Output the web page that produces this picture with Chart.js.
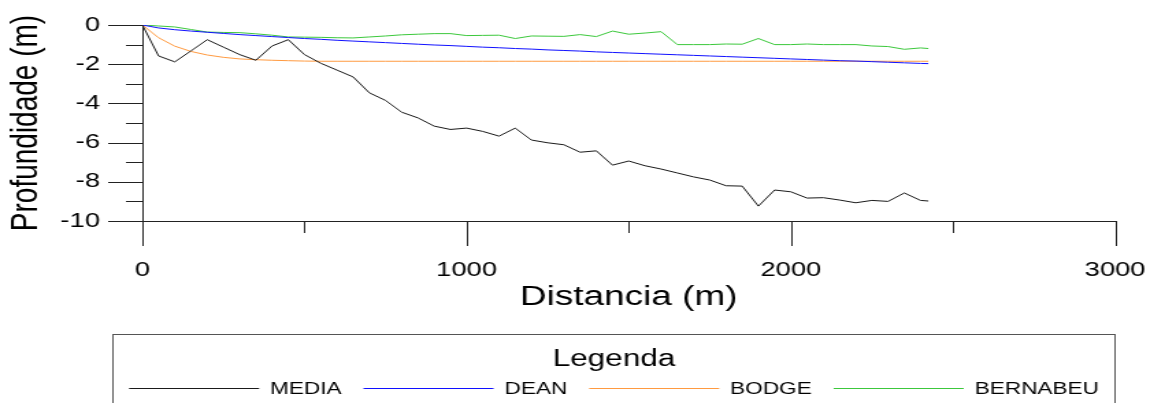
<!DOCTYPE html>
<html>
<head>
<meta charset="utf-8">
<title>Perfil de praia</title>
<script src="https://cdn.jsdelivr.net/npm/chart.js@4.4.1/dist/chart.umd.min.js"></script>
<style>
  html, body { margin: 0; padding: 0; background: #fff; overflow: hidden; }
  /* the original figure is stretched sideways: draw narrow, then widen */
  #chart { display: block; transform: scaleX(1.369); transform-origin: 0 0; }
</style>
</head>
<body>
<canvas id="chart" width="840" height="403"></canvas>
<script>
const distances = [0, 50, 100, 150, 200, 250, 300, 350, 400, 450, 500, 550, 600, 650, 700, 750, 800, 850, 900, 950,
  1000, 1050, 1100, 1150, 1200, 1250, 1300, 1350, 1400, 1450, 1500, 1550, 1600, 1650, 1700, 1750, 1800, 1850, 1900, 1950,
  2000, 2050, 2100, 2150, 2200, 2250, 2300, 2350, 2400, 2424];

const media = [0, -1.58, -1.88, -1.32, -0.75, -1.13, -1.51, -1.80, -1.07, -0.75, -1.51, -1.95, -2.3, -2.65, -3.46, -3.85, -4.45, -4.74, -5.16, -5.33,
  -5.26, -5.43, -5.67, -5.26, -5.87, -6.01, -6.11, -6.49, -6.42, -7.15, -6.94, -7.18, -7.35, -7.55, -7.75, -7.91, -8.2, -8.22, -9.24, -8.42,
  -8.51, -8.83, -8.81, -8.93, -9.07, -8.95, -9.0, -8.57, -8.95, -8.98];

const dean = [0, -0.15, -0.24, -0.31, -0.37, -0.43, -0.49, -0.54, -0.59, -0.64, -0.69, -0.73, -0.78, -0.82, -0.86, -0.90, -0.94, -0.98, -1.02, -1.05,
  -1.09, -1.13, -1.16, -1.20, -1.23, -1.27, -1.30, -1.33, -1.37, -1.40, -1.43, -1.46, -1.49, -1.52, -1.55, -1.58, -1.61, -1.64, -1.67, -1.70,
  -1.73, -1.76, -1.79, -1.82, -1.84, -1.87, -1.90, -1.93, -1.96, -1.97];

const bodge = [0, -0.65, -1.08, -1.35, -1.53, -1.65, -1.73, -1.77, -1.80, -1.82, -1.84, -1.85, -1.85, -1.85, -1.85, -1.85, -1.85, -1.85, -1.85, -1.85,
  -1.85, -1.85, -1.85, -1.85, -1.85, -1.85, -1.85, -1.85, -1.85, -1.85, -1.85, -1.85, -1.85, -1.85, -1.85, -1.85, -1.85, -1.85, -1.85, -1.85,
  -1.85, -1.85, -1.85, -1.85, -1.85, -1.85, -1.85, -1.85, -1.85, -1.85];

const bernabeu = [0, -0.05, -0.10, -0.23, -0.36, -0.38, -0.39, -0.45, -0.52, -0.61, -0.62, -0.63, -0.65, -0.66, -0.61, -0.56, -0.50, -0.47, -0.44, -0.44,
  -0.54, -0.53, -0.52, -0.69, -0.56, -0.57, -0.58, -0.49, -0.59, -0.31, -0.47, -0.41, -0.34, -1.0, -1.0, -1.0, -0.97, -0.98, -0.69, -1.0,
  -1.0, -0.97, -1.0, -1.0, -1.0, -1.07, -1.1, -1.24, -1.17, -1.2];

const seriesLabels = ['MEDIA', 'DEAN', 'BODGE', 'BERNABEU'];
const seriesColors = ['#1a1a1a', '#1010ff', '#ff9a40', '#3cc83c'];

const xTicks = [0, 1000, 2000, 3000];
const xMinorTicks = [500, 1500, 2500];
const yTicks = [0, -2, -4, -6, -8, -10];
const yMinorTicks = [-1, -3, -5, -7, -9];

const family = "'Liberation Sans', Arial, sans-serif";
const toPoints = ys => distances.map((d, i) => ({ x: d, y: ys[i] }));

// fixed axis boxes, no extra room for overhanging labels
const fixBox = size => s => {
  if (s.isHorizontal()) s.height = size; else s.width = size;
  s.paddingTop = s.paddingBottom = s.paddingLeft = s.paddingRight = 0;
};

// tick marks hang outside the axes, long at labelled values, short between
const axisTicks = {
  id: 'axisTicks',
  afterDraw(chart) {
    const { ctx, chartArea } = chart;
    const xs = chart.scales.x, ys = chart.scales.y;
    ctx.save();
    ctx.strokeStyle = '#222';
    ctx.lineWidth = 1;
    ctx.beginPath();
    xTicks.concat(xMinorTicks).forEach(v => {
      const px = Math.round(xs.getPixelForValue(v)) + 0.5;
      const len = xTicks.includes(v) ? 25 : 12;
      ctx.moveTo(px, chartArea.bottom);
      ctx.lineTo(px, chartArea.bottom + len);
    });
    yTicks.concat(yMinorTicks).forEach(v => {
      const py = Math.round(ys.getPixelForValue(v)) + 0.5;
      const len = yTicks.includes(v) ? 25 : 12;
      ctx.moveTo(chartArea.left, py);
      ctx.lineTo(chartArea.left - len, py);
    });
    ctx.stroke();
    ctx.restore();
  }
};

// framed legend under the plot, titled "Legenda"
const legendBox = {
  id: 'legendBox',
  afterDraw(chart) {
    const { ctx } = chart;
    const left = 82.5, top = 334.5, width = 732;
    ctx.save();
    ctx.strokeStyle = '#555';
    ctx.lineWidth = 1;
    ctx.strokeRect(left, top, width, 100);

    ctx.fillStyle = '#000';
    ctx.textAlign = 'center';
    ctx.textBaseline = 'alphabetic';
    ctx.font = `23px ${family}`;
    ctx.fillText('Legenda', left + width / 2, 366);

    ctx.font = `16.5px ${family}`;
    const lineLen = 95, gap = 8, pad = 16;
    const items = chart.data.datasets.map(ds => ({ text: ds.label, color: ds.borderColor, w: ctx.measureText(ds.label).width }));
    const total = items.reduce((s, it) => s + lineLen + gap + it.w, 0) + pad * (items.length - 1);
    let x = left + width / 2 - total / 2;
    const lineY = 388.5, textY = 389;
    ctx.textAlign = 'left';
    ctx.textBaseline = 'middle';
    items.forEach(it => {
      ctx.strokeStyle = it.color;
      ctx.beginPath();
      ctx.moveTo(x, lineY);
      ctx.lineTo(x + lineLen, lineY);
      ctx.stroke();
      ctx.fillText(it.text, x + lineLen + gap, textY);
      x += lineLen + gap + it.w + pad;
    });
    ctx.restore();
  }
};

const ctx = document.getElementById('chart').getContext('2d');
new Chart(ctx, {
  type: 'line',
  data: {
    datasets: [media, dean, bodge, bernabeu].map((ys, i) => ({
      label: seriesLabels[i],
      data: toPoints(ys),
      borderColor: seriesColors[i],
      borderWidth: 1,
      pointRadius: 0,
      fill: false,
      tension: 0
    }))
  },
  options: {
    responsive: false,
    animation: false,
    devicePixelRatio: 1,
    layout: { padding: { left: 0, right: 25.5, top: 25, bottom: 0 } },
    plugins: {
      legend: { display: false },
      tooltip: { enabled: false }
    },
    scales: {
      x: {
        type: 'linear',
        min: 0,
        max: 3000,
        afterBuildTicks: s => { s.ticks = xTicks.map(v => ({ value: v })); },
        afterFit: fixBox(182),
        grid: { display: false, drawTicks: false },
        border: { display: true, color: '#222', width: 1 },
        ticks: { color: '#000', padding: 37, maxRotation: 0, font: { family, size: 20 }, callback: v => String(v) },
        title: { display: true, text: 'Distancia (m)', color: '#000', font: { family, size: 27 }, padding: { top: 0, bottom: 89 } }
      },
      y: {
        min: -10,
        max: 0,
        afterBuildTicks: s => { s.ticks = yTicks.map(v => ({ value: v })); },
        afterFit: fixBox(104),
        grid: { display: false, drawTicks: false },
        border: { display: true, color: '#222', width: 1 },
        ticks: { color: '#000', padding: 31, font: { family, size: 20 }, callback: v => String(v) },
        title: { display: true, text: 'Profundidade (m)', color: '#000', font: { family, size: 28 }, padding: { top: 2.7, bottom: 0 } }
      }
    }
  },
  plugins: [axisTicks, legendBox]
});
</script>
</body>
</html>
